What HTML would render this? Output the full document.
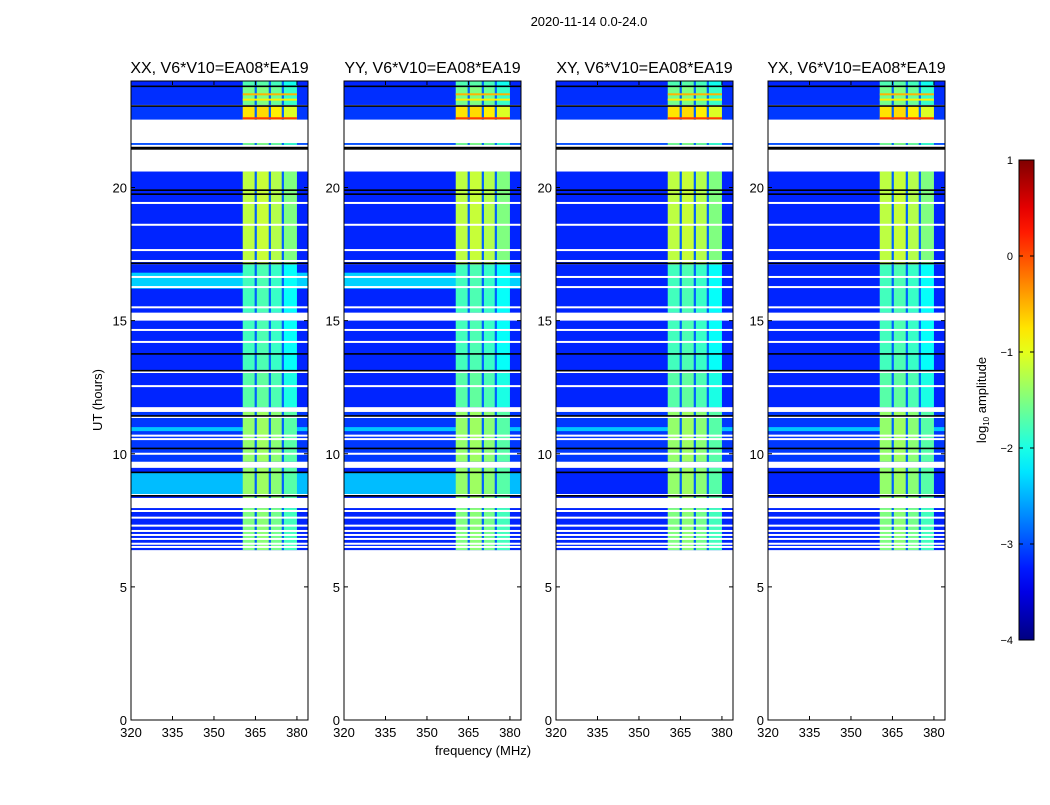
<!DOCTYPE html>
<html><head><meta charset="utf-8"><style>
body{margin:0;background:#fff;}
svg text{font-family:"Liberation Sans",sans-serif;fill:#000;}
</style></head><body>
<svg id="chart" width="1050" height="800" xmlns="http://www.w3.org/2000/svg">
<defs><linearGradient id="jetg" x1="0" y1="1" x2="0" y2="0"></linearGradient></defs>
<text x="589" y="26" font-size="13" text-anchor="middle">2020-11-14 0.0-24.0</text>
<text x="483" y="755" font-size="13" text-anchor="middle">frequency (MHz)</text>
<text transform="translate(102,400) rotate(-90)" font-size="13" text-anchor="middle">UT (hours)</text>
<g id="panels"></g>
<g id="cbar"></g>
<text transform="translate(986,400) rotate(-90)" font-size="13" text-anchor="middle">log<tspan font-size="8" dy="3">10</tspan><tspan dy="-3"> amplitude</tspan></text>
</svg>
<script>
const panelTitles = ["XX, V6*V10=EA08*EA19","YY, V6*V10=EA08*EA19","XY, V6*V10=EA08*EA19","YX, V6*V10=EA08*EA19"];
const xTicks = [320,335,350,365,380];
const yTicks = [0,5,10,15,20];
const cbTicks = [1,0,-1,-2,-3,-4];
// data segments: start hour, end hour, background level, band level
const segStart = [23.82,23.1,22.55,21.6,17.1,15.3,13.1,11.75,9.7,8.34,6.38];
const segEnd   = [24.0,23.78,23.05,21.67,20.6,17.1,15.0,13.1,11.57,9.47,7.96];
const segBg    = [-3.2,-3.15,-3.1,-3.0,-3.2,-3.2,-3.2,-3.2,-3.1,-3.2,-3.2];
const segBand  = [-1.8,-1.6,-0.8,-1.6,-1.25,-1.85,-1.85,-1.75,-1.45,-1.45,-1.55];
// extra cyan background bands per polarization (XX, YY only)
const cyanStart = [16.2,8.45,10.85];
const cyanEnd = [16.8,9.3,11.0];
const cyanLevel = [-2.35,-2.45,-2.4];
const cyanPanels = [[1,1,0,0],[1,1,0,0],[1,1,1,1]];
// colored RFI rows
const rfiHour = [23.5,23.3,22.6];
const rfiLevel = [-0.5,-0.8,0.1];
const whiteLines = [19.42,18.6,17.65,17.24,16.64,16.26,15.5,14.65,14.2,13.07,12.54,11.38,10.68,10.55,10.0,8.45,7.85,7.6,7.3,7.1,6.95,6.8,6.62,6.5];
const blackLines = [23.8,23.06,21.5,21.45,19.9,19.75,17.15,13.75,13.12,11.42,10.2,9.3,8.42];
// frequency structure
const bandEdges = [360.4,365.1,370.2,374.9,380.0];
const bandOffsets = [0.05,0.1,0.0,-0.25];
const notchWidth = 0.8;
const notchLevel = -2.9;

const NS="http://www.w3.org/2000/svg";
const svg=document.getElementById('chart');
const panelX=[131,344,556,768], PW=177, PT=81, PB=720;
function yS(h){return PB-(h/24)*(PB-PT);}
function jet(v){const t=Math.max(0,Math.min(1,(v+4)/5));const c=x=>Math.round(255*Math.max(0,Math.min(1,1.5-Math.abs(x))));return `rgb(${c(4*t-3)},${c(4*t-2)},${c(4*t-1)})`;}
function mk(tag,attrs,parent){const e=document.createElementNS(NS,tag);for(const k in attrs)e.setAttribute(k,attrs[k]);parent.appendChild(e);return e;}
const grad=document.getElementById('jetg');
for(let i=0;i<=20;i++){const s=document.createElementNS(NS,'stop');s.setAttribute('offset',i/20);s.setAttribute('stop-color',jet(-4+5*i/20));grad.appendChild(s);}
const pg=document.getElementById('panels');
panelX.forEach((x0,p)=>{
  const xS=f=>x0+(f-320)*PW/64;
  const g=mk('g',{},pg);
  
  
  const hm=mk('g',{},g);
  
  
  for(let i=0;i<segStart.length;i++){
    const y1=yS(segEnd[i]),y2=yS(segStart[i]);
    const r=mk('rect',{x:x0,y:y1,width:PW,height:y2-y1,fill:jet(segBg[i])},hm);
    
    
    for(let c=0;c<cyanStart.length;c++){
      if(!cyanPanels[c][p])continue;
      const a=Math.max(cyanStart[c],segStart[i]),b=Math.min(cyanEnd[c],segEnd[i]);
      if(b>a){const cr=mk('rect',{x:x0,y:yS(b),width:PW,height:yS(a)-yS(b),fill:jet(cyanLevel[c])},hm);
        
        }
    }
    for(let k=0;k<bandEdges.length-1;k++){
      const fa=bandEdges[k],fb=bandEdges[k+1];
      const br=mk('rect',{x:xS(fa),y:y1,width:xS(fb)-xS(fa),height:y2-y1,fill:jet(segBand[i]+bandOffsets[k])},hm);
      
      
    }
    for(let k=1;k<bandEdges.length-1;k++){
      const nr=mk('rect',{x:xS(bandEdges[k]-notchWidth/2),y:y1,width:notchWidth*PW/64,height:y2-y1,fill:jet(notchLevel)},hm);
      
      
    }
  }
  rfiHour.forEach((h,i)=>{const l=mk('rect',{x:xS(360.4),y:yS(h)-1,width:xS(380)-xS(360.4),height:2,fill:jet(rfiLevel[i])},hm);
    
    });
  whiteLines.forEach(h=>{const l=mk('rect',{x:x0,y:yS(h)-1,width:PW,height:2,fill:'#fff'},hm);
    
    });
  blackLines.forEach(h=>{const l=mk('rect',{x:x0,y:yS(h)-0.8,width:PW,height:1.6,fill:'#000'},hm);
    
    });
  const fr=mk('rect',{x:x0,y:PT,width:PW,height:PB-PT,fill:'none',stroke:'#000','stroke-width':1},g);
  
  
  const t=mk('text',{x:x0+PW/2,y:73,'font-size':16,'text-anchor':'middle'},g);t.textContent=panelTitles[p];
  
  
  xTicks.forEach(v=>{const x=xS(v);
    mk('line',{x1:x,x2:x,y1:PB,y2:PB-4,stroke:'#000'},g);mk('line',{x1:x,x2:x,y1:PT,y2:PT+4,stroke:'#000'},g);
    const l=mk('text',{x:x,y:PB+17,'font-size':13,'text-anchor':'middle'},g);l.textContent=v;
    
    });
  yTicks.forEach(v=>{const y=yS(v);
    mk('line',{x1:x0,x2:x0+4,y1:y,y2:y,stroke:'#000'},g);mk('line',{x1:x0+PW,x2:x0+PW-4,y1:y,y2:y,stroke:'#000'},g);
    const l=mk('text',{x:x0-4,y:y+5,'font-size':13,'text-anchor':'end'},g);l.textContent=v;
    
    });
});
const cb=document.getElementById('cbar');
const CX=1019,CW=15,CT=160,CB=640;
mk('rect',{x:CX,y:CT,width:CW,height:CB-CT,fill:'url(#jetg)',stroke:'#000','stroke-width':1},cb);
cbTicks.forEach(v=>{const y=CB-(v+4)/5*(CB-CT);
  mk('line',{x1:CX,x2:CX+4,y1:y,y2:y,stroke:'#000'},cb);mk('line',{x1:CX+CW,x2:CX+CW-4,y1:y,y2:y,stroke:'#000'},cb);
  const l=mk('text',{x:CX-6,y:y+4,'font-size':11,'text-anchor':'end'},cb);l.textContent=(v<0?'\u2212'+(-v):v);
  
  });
</script>
</body></html>
